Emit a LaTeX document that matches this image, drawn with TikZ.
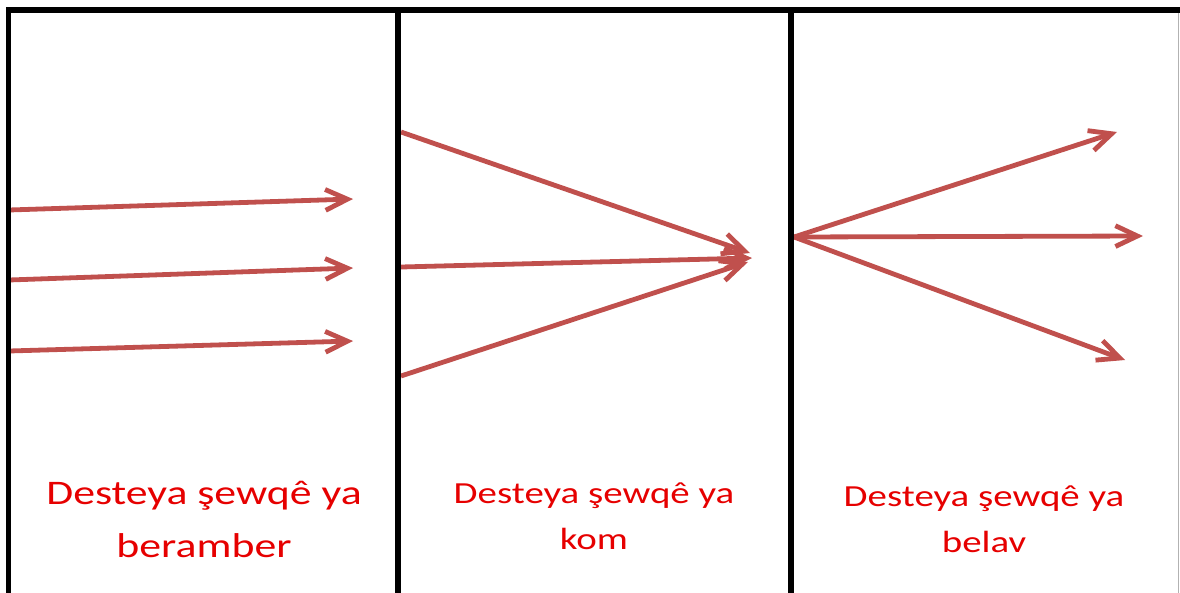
\documentclass[tikz,border=0pt]{standalone}
\usepackage{fontspec}
\newfontfamily\labelfont[FakeStretch=1.27]{Carlito}
\usepackage{xcolor}
\usepackage{tikz}
\usetikzlibrary{arrows.meta}
\definecolor{arrowred}{HTML}{C0504D}
\definecolor{labelred}{RGB}{230,0,0}
\tikzset{
    frame/.style={draw=black, line width=0.14cm},
    flow/.style={draw=arrowred, line width=0.12cm, -{Straight Barb[length=0.55cm, width=0.52cm]}},
    biglabel/.style={text=labelred, align=center, anchor=base, inner sep=0pt, font=\labelfont\fontsize{24.5}{37}\selectfont},
    smalllabel/.style={text=labelred, align=center, anchor=base, inner sep=0pt, font=\labelfont\fontsize{21.8}{32.7}\selectfont}
}

\begin{document}
\begin{tikzpicture}[x=0.025cm, y=-0.025cm]
            \useasboundingbox (0,0) rectangle (1180,593);

            % parallel beam
            \coordinate (parStartA) at (9,210);
            \coordinate (parEndA) at (353,199);
            \coordinate (parStartB) at (9,280);
            \coordinate (parEndB) at (353,268);
            \coordinate (parStartC) at (9,351);
            \coordinate (parEndC) at (353,341);
            \draw[flow] (parStartA) -- (parEndA);
            \draw[flow] (parStartB) -- (parEndB);
            \draw[flow] (parStartC) -- (parEndC);

            % converging beam
            \coordinate (convStartA) at (401,132);
            \coordinate (convStartB) at (401,267);
            \coordinate (convStartC) at (401,376);
            \coordinate (convEndA) at (750,253);
            \coordinate (convEndB) at (752,258);
            \coordinate (convEndC) at (748,262);
            \draw[flow] (convStartA) -- (convEndA);
            \draw[flow] (convStartB) -- (convEndB);
            \draw[flow] (convStartC) -- (convEndC);

            % diverging beam
            \coordinate (divStart) at (794,237);
            \coordinate (divEndA) at (1117,132);
            \coordinate (divEndB) at (1143,236);
            \coordinate (divEndC) at (1125,360);
            \draw[flow] (divStart) -- (divEndA);
            \draw[flow] (divStart) -- (divEndB);
            \draw[flow] (divStart) -- (divEndC);

            % panel frames
            \draw[frame] (6,10) -- (1180,10);
            \draw[frame] (8.5,8) -- (8.5,593);
            \draw[frame, line width=0.15cm] (398,8) -- (398,593);
            \draw[frame, line width=0.15cm] (791,8) -- (791,593);
            \draw[gray!60, line width=0.04cm] (1178.5,13) -- (1178.5,593);

            \node (parLabel) [biglabel] at (204,557) {Desteya şewqê ya\\beramber};
            \node (convLabel) [smalllabel] at (594,549) {Desteya şewqê ya\\kom};
            \node (divLabel) [smalllabel] at (984,552) {Desteya şewqê ya\\belav};
        \end{tikzpicture}
\end{document}
